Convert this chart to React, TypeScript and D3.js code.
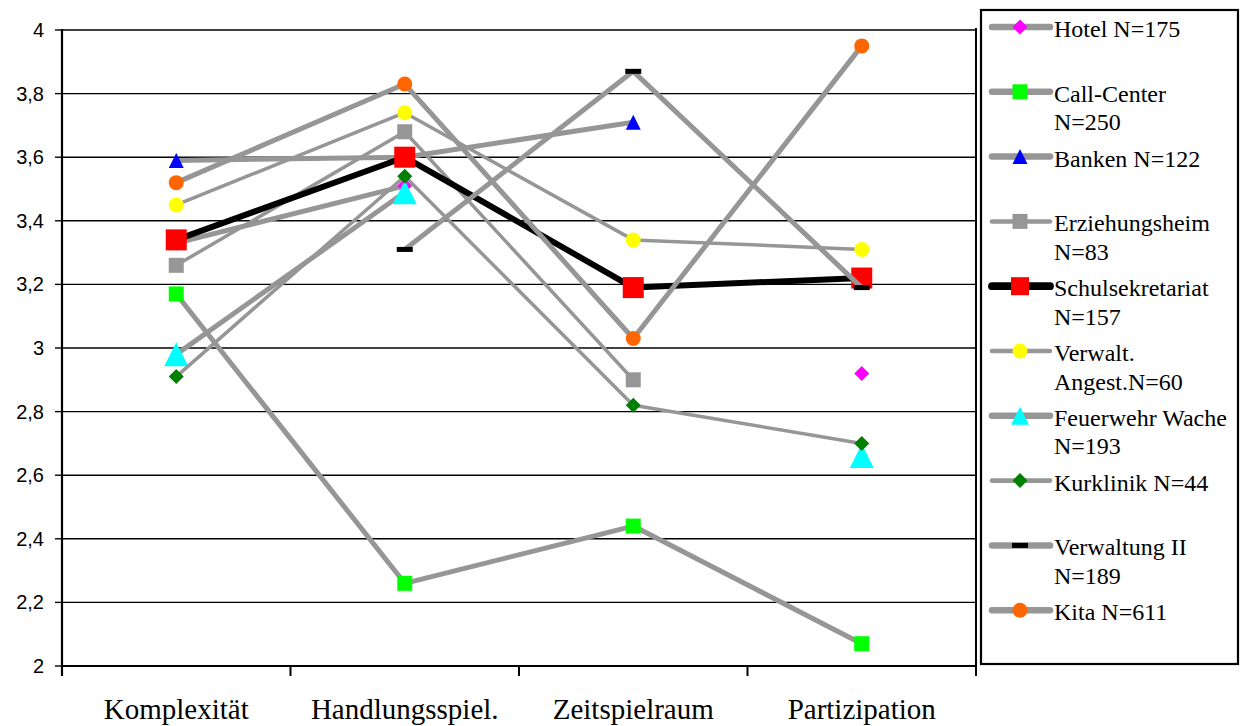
import React from "react";
import * as d3 from "d3";

const categories = ["Komplexität", "Handlungsspiel.", "Zeitspielraum", "Partizipation"];
const yTicks = [2, 2.2, 2.4, 2.6, 2.8, 3, 3.2, 3.4, 3.6, 3.8, 4];

const hotel = [3.33, 3.51, null, 2.92];
const callCenter = [3.17, 2.26, 2.44, 2.07];
const banken = [3.59, 3.6, 3.71, null];
const erziehungsheim = [3.26, 3.68, 2.9, null];
const schulsekretariat = [3.34, 3.6, 3.19, 3.22];
const verwaltAngest = [3.45, 3.74, 3.34, 3.31];
const feuerwehr = [2.98, 3.49, null, 2.66];
const kurklinik = [2.91, 3.54, 2.82, 2.7];
const verwaltungII = [null, 3.31, 3.87, 3.19];
const kita = [3.52, 3.83, 3.03, 3.95];

type Shape = "diamond" | "square" | "triangle" | "circle" | "dash";
interface Series {
  label: string[];
  values: (number | null)[];
  color: string;
  lineColor: string;
  lineWidth: number;
  shape: Shape;
  size: number;
}

const GRAY = "#969696";
const series: Series[] = [
  { label: ["Hotel N=175"], values: hotel, color: "#FF00FF", lineColor: GRAY, lineWidth: 5, shape: "diamond", size: 15 },
  { label: ["Call-Center", "N=250"], values: callCenter, color: "#00FF00", lineColor: GRAY, lineWidth: 5, shape: "square", size: 15 },
  { label: ["Banken N=122"], values: banken, color: "#0000FF", lineColor: GRAY, lineWidth: 5, shape: "triangle", size: 15 },
  { label: ["Erziehungsheim", "N=83"], values: erziehungsheim, color: GRAY, lineColor: GRAY, lineWidth: 3.5, shape: "square", size: 15 },
  { label: ["Schulsekretariat", "N=157"], values: schulsekretariat, color: "#FF0000", lineColor: "#000000", lineWidth: 6, shape: "square", size: 21 },
  { label: ["Verwalt.", "Angest.N=60"], values: verwaltAngest, color: "#FFFF00", lineColor: GRAY, lineWidth: 3.5, shape: "circle", size: 15 },
  { label: ["Feuerwehr Wache", "N=193"], values: feuerwehr, color: "#00FFFF", lineColor: GRAY, lineWidth: 5, shape: "triangle", size: 24 },
  { label: ["Kurklinik N=44"], values: kurklinik, color: "#008000", lineColor: GRAY, lineWidth: 3.5, shape: "diamond", size: 15 },
  { label: ["Verwaltung II", "N=189"], values: verwaltungII, color: "#000000", lineColor: GRAY, lineWidth: 5, shape: "dash", size: 16 },
  { label: ["Kita N=611"], values: kita, color: "#FF6600", lineColor: GRAY, lineWidth: 5, shape: "circle", size: 15 },
];

function Marker({ shape, size, color, x, y }: { shape: Shape; size: number; color: string; x: number; y: number }) {
  const h = size / 2;
  switch (shape) {
    case "square":
      return <rect x={x - h} y={y - h} width={size} height={size} fill={color} />;
    case "diamond":
      return <polygon points={`${x},${y - h} ${x + h},${y} ${x},${y + h} ${x - h},${y}`} fill={color} />;
    case "triangle":
      return <polygon points={`${x},${y - h} ${x + h},${y + h} ${x - h},${y + h}`} fill={color} />;
    case "circle":
      return <circle cx={x} cy={y} r={h} fill={color} />;
    case "dash":
      return <rect x={x - h} y={y - 2.5} width={size} height={5} fill={color} />;
  }
  return null;
}

export default function App() {
  const left = 62, right = 976, top = 30, bottom = 666;
  const x = d3.scaleBand<string>().domain(categories).range([left, right]);
  const cx = (c: string) => (x(c) as number) + x.bandwidth() / 2;
  const y = d3.scaleLinear().domain([2, 4]).range([bottom, top]);
  const fmt = (v: number) => String(v).replace(".", ",");

  const legendX = 981, legendY = 10, legendW = 257, legendH = 654;
  const legendRow = d3.scaleLinear().domain([0, 1]).range([27, 27 + 64.8]);

  return (
    <div style={{ position: "fixed", left: 0, top: 0 }}>
      <svg width={1247} height={726} style={{ display: "block", background: "#fff" }}>
        {yTicks.map((t) => (
          <line key={"g" + t} x1={left} x2={right} y1={y(t)} y2={y(t)} stroke="#000" strokeWidth={1.4} />
        ))}
        {yTicks.map((t) => (
          <g key={"t" + t}>
            <line x1={55} x2={left} y1={y(t)} y2={y(t)} stroke="#000" strokeWidth={1.4} />
            <text x={44} y={y(t) + 7} textAnchor="end" fontFamily="'Liberation Sans', Arial, sans-serif" fontSize={20} fill="#000">
              {fmt(t)}
            </text>
          </g>
        ))}
        <line x1={left} x2={left} y1={top - 1} y2={bottom + 10} stroke="#000" strokeWidth={2.2} />
        <line x1={left} x2={right} y1={bottom} y2={bottom} stroke="#000" strokeWidth={2.2} />
        <line x1={right} x2={right} y1={top - 2} y2={bottom + 10} stroke="#000" strokeWidth={2} />
        {categories.map((c, i) =>
          i > 0 ? (
            <line key={"xt" + c} x1={x(c) as number} x2={x(c) as number} y1={bottom} y2={bottom + 10} stroke="#000" strokeWidth={2} />
          ) : null
        )}
        {categories.map((c) => (
          <text key={"xl" + c} x={cx(c)} y={719} textAnchor="middle" fontFamily="'Liberation Serif', 'Times New Roman', serif" fontSize={29} fill="#000">
            {c}
          </text>
        ))}
        {series.map((s, si) => {
          const pts = s.values.map((v, i) => ({ c: categories[i], v }));
          const line = d3
            .line<{ c: string; v: number | null }>()
            .defined((d) => d.v != null)
            .x((d) => cx(d.c))
            .y((d) => y(d.v as number));
          return (
            <g key={"s" + si}>
              <path d={line(pts) || ""} fill="none" stroke={s.lineColor} strokeWidth={s.lineWidth} strokeLinejoin="round" />
              {pts.map((p, i) =>
                p.v != null ? <Marker key={i} shape={s.shape} size={s.size} color={s.color} x={cx(p.c)} y={y(p.v)} /> : null
              )}
            </g>
          );
        })}
        <rect x={legendX} y={legendY} width={legendW} height={legendH} fill="#fff" stroke="#000" strokeWidth={2.2} />
        {series.map((s, i) => {
          const ly = legendRow(i);
          return (
            <g key={"l" + i}>
              <line x1={992} x2={1050} y1={ly} y2={ly} stroke={s.lineColor} strokeWidth={s.lineWidth * 1.3} strokeLinecap="round" />
              <Marker shape={s.shape} size={Math.min(s.size, 18)} color={s.color} x={1020} y={ly} />
              {s.label.map((t, j) => (
                <text key={j} x={1054} y={ly + 10 + j * 28.5} fontFamily="'Liberation Serif', 'Times New Roman', serif" fontSize={24} fill="#000">
                  {t}
                </text>
              ))}
            </g>
          );
        })}
      </svg>
    </div>
  );
}
